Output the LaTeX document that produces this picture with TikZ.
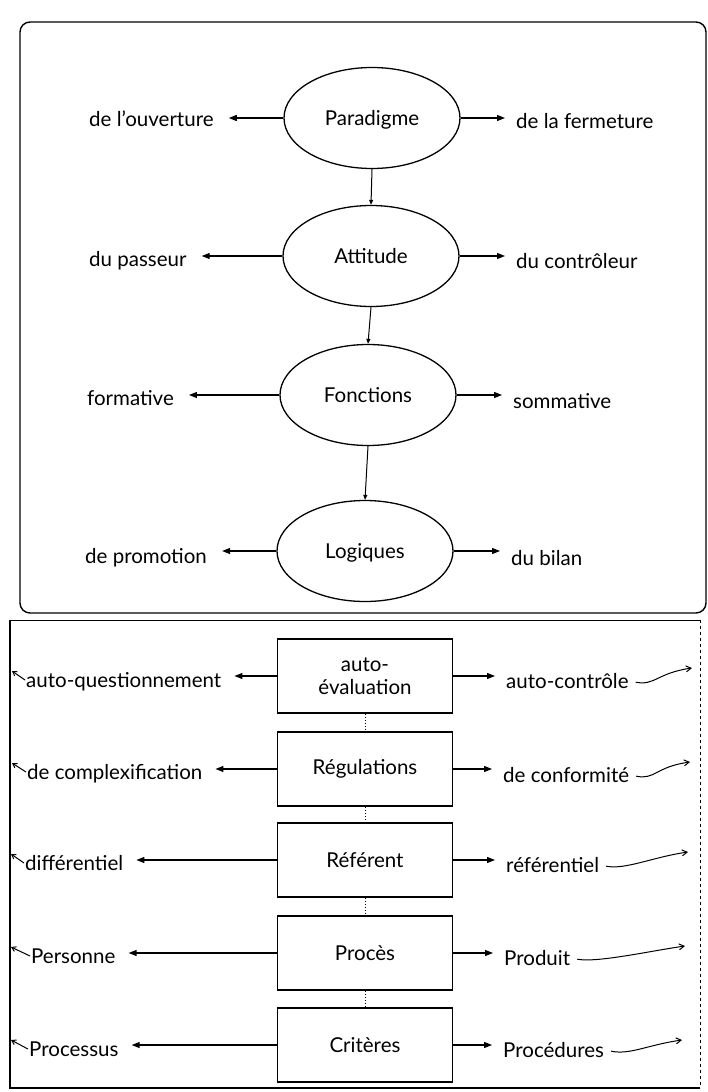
\documentclass[tikz,border=0pt]{standalone}
\usepackage{fontspec}
\setmainfont{Lato}
\usetikzlibrary{arrows.meta,shapes.geometric}
\begin{document}
\begin{tikzpicture}[x=1pt,y=-1pt,
  txt/.style={font=\fontsize{20.5}{23}\selectfont, inner sep=1pt},
  ell/.style={ellipse, draw, line width=1.3pt, minimum width=176pt, minimum height=101pt, inner sep=0pt, text depth=0pt, txt},
  bx/.style={rectangle, draw, line width=1.1pt, minimum width=175pt, minimum height=74pt, align=center, inner sep=0pt, txt},
  lab/.style={txt, anchor=west, text depth=0pt, yshift=-3pt},
  arr/.style={-{Triangle[length=8pt,width=6pt]}, line width=1.2pt},
  varr/.style={-{Triangle[length=5pt,width=4pt]}, line width=1pt},
  carr/.style={-{Straight Barb[length=5pt,width=6pt]}, line width=1pt},
  sarr/.style={-{Straight Barb[length=4pt,width=5pt]}, line width=1pt},
  link/.style={dotted, line width=1pt},
]
\useasboundingbox (0,0) rectangle (708,1092);
% panels
\draw[line width=1.4pt, rounded corners=10pt] (20,22) rectangle (706,613);
\draw[line width=0.7pt] (10,620) -- (700,620);
\draw[line width=1.2pt] (700,1088) -- (10,1088) -- (10,620);
\draw[line width=0.8pt, dashed] (700,620) -- (700,1088);

% ellipses
\node[ell] (par) at (372,118) {Paradigme};
\node[ell] (att) at (371,256) {Attitude};
\node[ell] (fon) at (368,395) {Fonctions};
\node[ell] (log) at (365,551) {Logiques};

\node[lab] (ouv) at (88,116) {de l'ouverture};
\node[lab] (fer) at (515,118) {de la fermeture};
\node[lab] (pas) at (88,256) {du passeur};
\node[lab] (con) at (515,258) {du contrôleur};
\node[lab] (for) at (86,395) {formative};
\node[lab] (som) at (512,398) {sommative};
\node[lab] (pro) at (84,553) {de promotion};
\node[lab] (bil) at (510,555) {du bilan};

\foreach \e/\l/\r in {par/ouv/fer, att/pas/con, fon/for/som, log/pro/bil}{
  \draw[arr, shorten >=14pt] (\e.west) -- (\e.west -| \l.east);
  \draw[arr, shorten >=10pt] (\e.east) -- (\e.east -| \r.west);
}
\draw[varr] (par.south) -- (att.north);
\draw[varr] (att.south) -- (fon.north);
\draw[varr] (fon.south) -- (log.north);

% boxes
\node[bx] (aev) at (365,676) {auto-\\évaluation};
\node[bx] (reg) at (365,769) {Régulations};
\node[bx] (ref) at (365,860) {Référent};
\node[bx] (prc) at (365,953) {Procès};
\node[bx] (cri) at (365,1045) {Critères};

\draw[link] (aev.south) -- (reg.north);
\draw[link] (reg.south) -- (ref.north);
\draw[link] (ref.south) -- (prc.north);
\draw[link] (prc.south) -- (cri.north);

\node[lab] (aq) at (25,677) {auto-questionnement};
\node[lab] (cx) at (26,769) {de complexification};
\node[lab] (di) at (24,860) {différentiel};
\node[lab] (pe) at (30,953) {Personne};
\node[lab] (ps) at (28,1046) {Processus};

\node[lab] (ac) at (505,678) {auto-contrôle};
\node[lab] (cf) at (502,772) {de conformité};
\node[lab] (rl) at (505,862) {référentiel};
\node[lab] (pd) at (503,955) {Produit};
\node[lab] (pc) at (502,1047) {Procédures};

\foreach \b/\l/\r in {aev/aq/ac, reg/cx/cf, ref/di/rl, prc/pe/pd, cri/ps/pc}{
  \draw[arr, shorten >=12pt] (\b.west) -- (\b.west -| \l.east);
  \draw[arr, shorten >=10pt] (\b.east) -- (\b.east -| \r.west);
}

\coordinate (aqe) at (12,671);
\coordinate (cxe) at (12,763);
\coordinate (die) at (11,854);
\coordinate (pee) at (11,947);
\coordinate (pse) at (11,1040);
\foreach \l in {aq,cx,di,pe,ps}{
  \draw[sarr] (\l.west) -- (\l e);
}

\coordinate (ace) at (692,668);
\coordinate (cfe) at (690,762);
\coordinate (rle) at (688,852);
\coordinate (pde) at (685,946);
\coordinate (pce) at (682,1040);
\foreach \l in {ac,cf,rl,pd,pc}{
  \draw[carr, shorten <=6pt] (\l.east) .. controls +(25,5) and +(-35,5) .. (\l e);
}
\end{tikzpicture}
\end{document}
